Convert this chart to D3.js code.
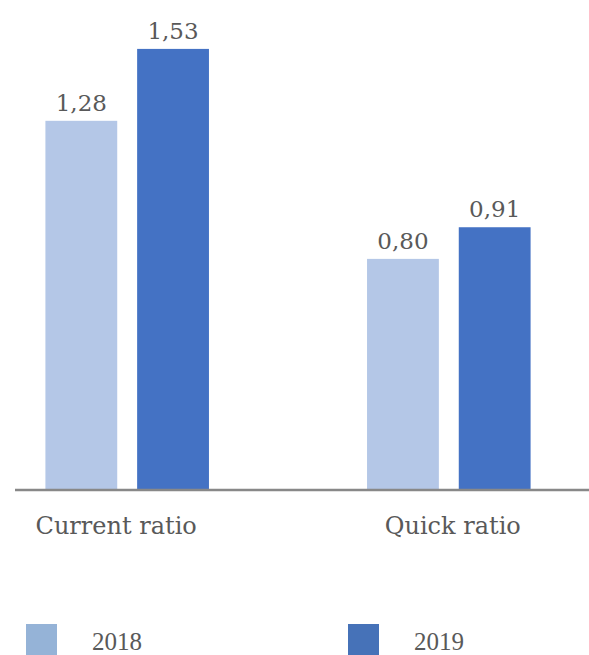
<!DOCTYPE html>
<html>
<head>
<meta charset="utf-8">
<script src="https://cdn.jsdelivr.net/npm/d3@7"></script>
<style>
  html, body { margin: 0; padding: 0; background: #fff; }
  svg { display: block; }
</style>
</head>
<body>
<svg id="chart" width="589" height="655"></svg>
<script>
const categories = ["Current ratio", "Quick ratio"];
const years = ["2018", "2019"];
const values2018 = [1.28, 0.80];
const values2019 = [1.53, 0.91];
const valueLabels2018 = ["1,28", "0,80"];
const valueLabels2019 = ["1,53", "0,91"];

const barColors = { "2018": "#b4c7e7", "2019": "#4472c4" };
const legendColors = { "2018": "#95b3d7", "2019": "#4672b8" };
const textColor = "#595959";

const data = categories.map((c, i) => ({
  category: c,
  bars: [
    { year: "2018", value: values2018[i], label: valueLabels2018[i] },
    { year: "2019", value: values2019[i], label: valueLabels2019[i] }
  ]
}));

const svg = d3.select("#chart");
const baseY = 489;

const x0 = d3.scaleBand().domain(categories).range([-35, 611]).paddingInner(0.4915).paddingOuter(0.25);
const x1 = d3.scaleBand().domain(years).range([0, x0.bandwidth()]).paddingInner(0.217).paddingOuter(0);
const y = d3.scaleLinear().domain([0, 1.7]).range([baseY, 0]);

const groups = svg.selectAll("g.group").data(data).join("g")
  .attr("class", "group")
  .attr("transform", d => `translate(${x0(d.category)},0)`);

groups.selectAll("rect").data(d => d.bars).join("rect")
  .attr("x", d => x1(d.year))
  .attr("y", d => y(d.value))
  .attr("width", x1.bandwidth())
  .attr("height", d => baseY - y(d.value))
  .attr("fill", d => barColors[d.year]);

groups.selectAll("text.val").data(d => d.bars).join("text")
  .attr("class", "val")
  .attr("x", d => x1(d.year) + x1.bandwidth() / 2)
  .attr("y", d => y(d.value) - 10)
  .attr("text-anchor", "middle")
  .attr("font-family", "'DejaVu Serif', serif")
  .attr("font-size", 23)
  .attr("fill", textColor)
  .text(d => d.label);

// baseline axis
svg.append("line")
  .attr("x1", 15).attr("x2", 589)
  .attr("y1", baseY + 1).attr("y2", baseY + 1)
  .attr("stroke", "#888888")
  .attr("stroke-width", 2.5);

// category labels
const catOffsets = [-11, 4];
svg.selectAll("text.cat").data(categories).join("text")
  .attr("class", "cat")
  .attr("x", (d, i) => x0(d) + x0.bandwidth() / 2 + catOffsets[i])
  .attr("y", 534)
  .attr("text-anchor", "middle")
  .attr("font-family", "'DejaVu Serif', serif")
  .attr("font-size", 24)
  .attr("fill", textColor)
  .text(d => d);

// legend
const legendX = d3.scalePoint().domain(years).range([26, 348]);
const lg = svg.selectAll("g.legend").data(years).join("g")
  .attr("class", "legend")
  .attr("transform", d => `translate(${legendX(d)},0)`);
lg.append("rect")
  .attr("x", 0).attr("y", 624)
  .attr("width", 31).attr("height", 31)
  .attr("fill", d => legendColors[d]);
lg.append("text")
  .attr("x", 66).attr("y", 650)
  .attr("font-family", "'Liberation Serif', 'Times New Roman', serif")
  .attr("font-size", 25)
  .attr("fill", textColor)
  .text(d => d);
</script>
</body>
</html>
